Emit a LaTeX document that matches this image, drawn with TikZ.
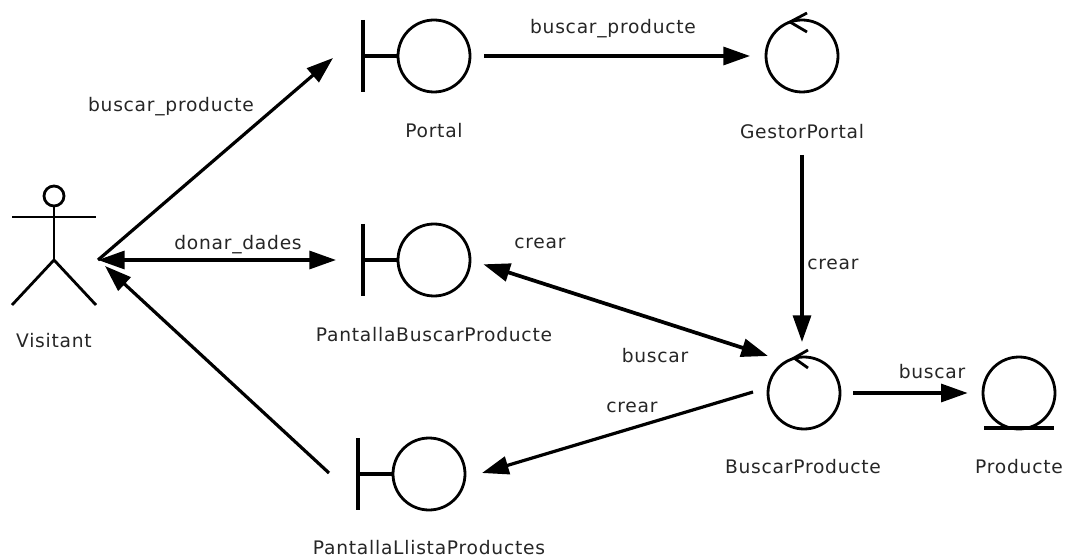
\documentclass[tikz,border=0pt]{standalone}
\usepackage{fontspec}
\setmainfont[LetterSpace=4]{DejaVu Sans}
\usetikzlibrary{arrows.meta}
\tikzset{
  x=0.75pt,y=-0.75pt,
  lbl/.style={font=\fontsize{14pt}{16pt}\selectfont,text=black!85,inner sep=0pt,yshift=-0.4pt},
  shape line/.style={line width=2.1pt,draw=black},
  bar line/.style={line width=2.4pt,draw=black},
  umlcircle/.style={circle,shape line,minimum size=54pt,inner sep=0pt,outer sep=0pt},
  conn/.style={line width=2.4pt,draw=black,-{Triangle[length=20pt,width=13.5pt]}},
  conn2/.style={line width=2.4pt,draw=black,{Triangle[length=20pt,width=13.5pt]}-{Triangle[length=20pt,width=13.5pt]}},
}
\begin{document}
\begin{tikzpicture}
\useasboundingbox (0,0) rectangle (1066,559);
% actor
\node[circle,shape line,minimum size=15pt,inner sep=0pt] (head) at (54,196) {};
\draw[shape line] (12,217) -- (96,217);
\coordinate (hip) at (54,260);
\draw[shape line] (head.south) -- (hip);
\draw[shape line] (12,305) -- (hip) -- (96,305);
\node[lbl] (lvisit) at (54,340) {Visitant};
% boundary objects
\node[umlcircle] (portal) at (434,56) {};
\draw[bar line] (363,20) -- (363,92);
\draw[bar line] (363,56) -- (portal.west);
\node[lbl] (lportal) at (434,130) {Portal};
\node[umlcircle] (pbp) at (434,260) {};
\draw[bar line] (363,224) -- (363,296);
\draw[bar line] (363,260) -- (pbp.west);
\node[lbl] (lpbp) at (434,334) {PantallaBuscarProducte};
\node[umlcircle] (pllp) at (429,474) {};
\draw[bar line] (358,438) -- (358,510);
\draw[bar line] (358,474) -- (pllp.west);
\node[lbl] (lpllp) at (429,547.5) {PantallaLlistaProductes};
% controls
\node[umlcircle] (gestor) at (802,56) {};
\draw[shape line] (807,13) -- (790,22) -- (807,32);
\node[lbl] (lgestor) at (802,131) {GestorPortal};
\node[umlcircle] (bp) at (804,393) {};
\draw[shape line] (808,350) -- (794,358) -- (808,368);
\node[lbl] (lbp) at (803,466) {BuscarProducte};
% entity
\node[umlcircle] (prod) at (1019,393) {};
\draw[bar line] (984,428) -- (1054,428);
\node[lbl] (lprod) at (1019,466) {Producte};
% connector ends
\coordinate (hub) at (98,260);
\coordinate (hubb) at (105,266);
\coordinate (portalin) at (333,58);
\coordinate (pbpin) at (336,260);
\coordinate (llistaout) at (329,473);
\coordinate (gestorout) at (802,155);
\coordinate (bptop) at (802,342);
\coordinate (bpin) at (768,356);
\coordinate (bpout) at (753,392);
\coordinate (llistain) at (482,473);
% connectors
\draw[conn] (hub) -- (portalin);
\draw[conn2] (hub) -- (pbpin);
\draw[conn] (llistaout) -- (hubb);
\draw[conn,shorten <=10.5pt,shorten >=12pt] (portal.east) -- (gestor.west);
\draw[conn] (gestorout) -- (bptop);
\draw[conn2,line width=2.8pt,shorten <=10.5pt] (pbp.east) -- (bpin);
\draw[conn] (bpout) -- (llistain);
\draw[conn,shorten <=10pt,shorten >=11.5pt] (bp.east) -- (prod.west);
% labels
\node[lbl] (m1) at (171,106) {buscar\_producte};
\node[lbl] (m2) at (238,244) {donar\_dades};
\node[lbl] (m3) at (613,28) {buscar\_producte};
\node[lbl] (m4) at (540,243) {crear};
\node[lbl] (m5) at (833,264) {crear};
\node[lbl] (m6) at (655,355) {buscar};
\node[lbl] (m7) at (632,407) {crear};
\node[lbl] (m8) at (932,371) {buscar};
\end{tikzpicture}
\end{document}
